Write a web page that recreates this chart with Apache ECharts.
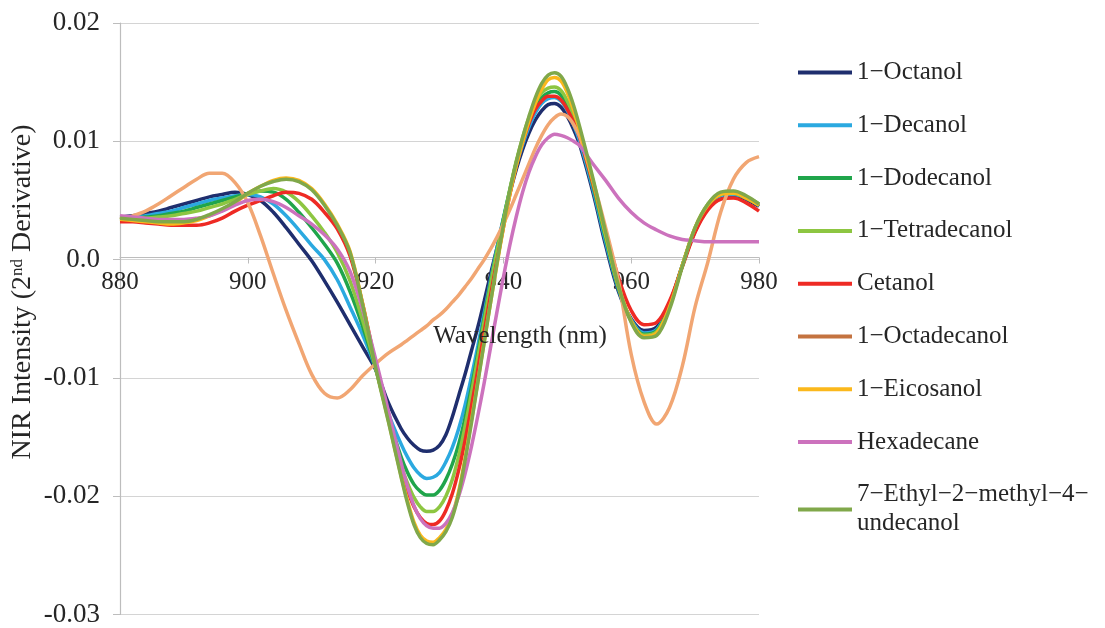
<!DOCTYPE html>
<html>
<head>
<meta charset="utf-8">
<script src="https://cdn.jsdelivr.net/npm/echarts@6/dist/echarts.min.js"></script>
<style>
html,body{margin:0;padding:0;background:#fff;}
#chart{width:1105px;height:628px;}
</style>
</head>
<body>
<div id="chart"></div>
<script>
// Wavelength grid (nm)
const wavelengths = [880,882,884,886,888,890,892,894,896,898,900,902,904,906,908,910,912,914,916,918,920,922,924,
  925,926,927,928,929,930,931,932,933,934,935,936,937,938,939,940,941,942,943,944,945,946,947,948,949,950,951,
  952,954,956,958,960,962,964,966,968,970,972,974,976,978,980];

const seriesNames = ['1\u2212Octanol','1\u2212Decanol','1\u2212Dodecanol','1\u2212Tetradecanol','Cetanol','1\u2212Octadecanol','1\u2212Eicosanol','Hexadecane','7\u2212Ethyl\u22122\u2212methyl\u22124\u2212\nundecanol'];

const octanol = [0.0036,0.0037,0.0039,0.0041,0.0044,0.0047,0.0050,0.0053,0.0055,0.0057,0.0055,0.0050,0.0040,0.0027,0.0013,
  -0.0001,-0.0018,-0.0036,-0.0055,-0.0074,-0.0093,-0.0121,-0.0143,
  -0.0151,-0.0157,-0.0161,-0.0162,-0.0161,-0.0157,-0.0148,-0.0133,-0.0115,-0.0097,-0.0077,-0.0057,-0.0035,-0.0012,0.0010,0.0034,0.0056,0.0076,0.0093,0.0107,0.0118,0.0126,0.0131,0.0132,0.0129,0.0121,0.0110,
  0.0096,0.0057,0.0012,-0.0027,-0.0050,-0.0060,-0.0057,-0.0037,-0.0005,0.0024,0.0043,0.0052,0.0054,0.0051,0.0045];

const decanol = [0.0036,0.0036,0.0037,0.0039,0.0041,0.0044,0.0047,0.0050,0.0052,0.0054,0.0055,0.0053,0.0047,0.0037,0.0025,
  0.0012,0.0000,-0.0017,-0.0040,-0.0064,-0.0092,-0.0130,-0.0156,
  -0.0167,-0.0176,-0.0182,-0.0185,-0.0184,-0.0180,-0.0171,-0.0159,-0.0143,-0.0123,-0.0099,-0.0073,-0.0045,-0.0017,0.0010,0.0035,0.0058,0.0079,0.0097,0.0112,0.0124,0.0132,0.0136,0.0137,0.0134,0.0126,0.0114,
  0.0099,0.0060,0.0015,-0.0025,-0.0051,-0.0062,-0.0059,-0.0038,-0.0005,0.0026,0.0045,0.0054,0.0055,0.0052,0.0046];

const dodecanol = [0.0036,0.0035,0.0036,0.0037,0.0039,0.0041,0.0044,0.0047,0.0050,0.0053,0.0056,0.0058,0.0057,0.0051,0.0040,
  0.0027,0.0013,-0.0003,-0.0027,-0.0057,-0.0092,-0.0133,-0.0167,
  -0.0180,-0.0190,-0.0196,-0.0199,-0.0199,-0.0195,-0.0186,-0.0173,-0.0156,-0.0134,-0.0108,-0.0079,-0.0049,-0.0019,0.0008,0.0034,0.0059,0.0082,0.0101,0.0117,0.0129,0.0137,0.0141,0.0142,0.0139,0.0130,0.0118,
  0.0103,0.0063,0.0018,-0.0024,-0.0052,-0.0063,-0.0060,-0.0039,-0.0005,0.0026,0.0046,0.0055,0.0056,0.0052,0.0046];

const tetradecanol = [0.0036,0.0035,0.0035,0.0036,0.0037,0.0039,0.0041,0.0044,0.0047,0.0051,0.0055,0.0058,0.0060,0.0057,0.0049,
  0.0037,0.0023,0.0006,-0.0018,-0.0052,-0.0091,-0.0134,-0.0174,
  -0.0189,-0.0201,-0.0209,-0.0213,-0.0213,-0.0209,-0.0200,-0.0186,-0.0166,-0.0141,-0.0113,-0.0083,-0.0052,-0.0021,0.0007,0.0033,0.0059,0.0083,0.0103,0.0120,0.0133,0.0141,0.0145,0.0146,0.0143,0.0134,0.0121,
  0.0105,0.0065,0.0020,-0.0023,-0.0052,-0.0064,-0.0061,-0.0040,-0.0005,0.0027,0.0047,0.0056,0.0057,0.0053,0.0047];

const cetanol = [0.0032,0.0032,0.0031,0.0030,0.0029,0.0029,0.0029,0.0031,0.0035,0.0041,0.0046,0.0050,0.0054,0.0057,0.0056,
  0.0051,0.0040,0.0026,0.0003,-0.0038,-0.0088,-0.0133,-0.0177,
  -0.0195,-0.0209,-0.0218,-0.0223,-0.0224,-0.0221,-0.0212,-0.0198,-0.0178,-0.0153,-0.0124,-0.0093,-0.0061,-0.0030,-0.0001,0.0027,0.0055,0.0079,0.0099,0.0115,0.0127,0.0134,0.0138,0.0138,0.0135,0.0127,0.0116,
  0.0102,0.0065,0.0024,-0.0015,-0.0043,-0.0055,-0.0053,-0.0035,-0.0006,0.0023,0.0042,0.0051,0.0052,0.0048,0.0041];

const octadecanol = [0.0034,0.0037,0.0041,0.0047,0.0054,0.0061,0.0068,0.0073,0.0073,0.0065,0.0048,0.0020,-0.0012,-0.0043,-0.0071,
  -0.0097,-0.0113,-0.0117,-0.0110,-0.0098,-0.0088,-0.0079,-0.0072,
  -0.0068,-0.0064,-0.0060,-0.0056,-0.0051,-0.0047,-0.0042,-0.0036,-0.0030,-0.0023,-0.0016,-0.0008,0.0000,0.0009,0.0019,0.0030,0.0042,0.0055,0.0068,0.0081,0.0094,0.0105,0.0114,0.0120,0.0123,0.0121,0.0114,
  0.0103,0.0067,0.0027,-0.0018,-0.0080,-0.0120,-0.0139,-0.0125,-0.0090,-0.0040,-0.0002,0.0040,0.0068,0.0082,0.0087];

const eicosanol = [0.0034,0.0033,0.0032,0.0031,0.0030,0.0031,0.0033,0.0037,0.0042,0.0048,0.0056,0.0062,0.0067,0.0069,0.0067,
  0.0060,0.0047,0.0030,0.0007,-0.0038,-0.0090,-0.0136,-0.0183,
  -0.0204,-0.0222,-0.0233,-0.0238,-0.0239,-0.0235,-0.0228,-0.0216,-0.0196,-0.0168,-0.0136,-0.0103,-0.0069,-0.0036,-0.0004,0.0027,0.0055,0.0079,0.0099,0.0117,0.0132,0.0144,0.0152,0.0154,0.0151,0.0141,0.0126,
  0.0108,0.0067,0.0022,-0.0022,-0.0052,-0.0065,-0.0062,-0.0040,-0.0005,0.0027,0.0046,0.0055,0.0056,0.0052,0.0046];

const hexadecane = [0.0037,0.0036,0.0035,0.0034,0.0034,0.0034,0.0035,0.0037,0.0041,0.0046,0.0050,0.0051,0.0049,0.0044,0.0037,
  0.0030,0.0021,0.0009,-0.0010,-0.0043,-0.0084,-0.0128,-0.0172,
  -0.0192,-0.0208,-0.0219,-0.0225,-0.0227,-0.0227,-0.0223,-0.0214,-0.0200,-0.0181,-0.0158,-0.0132,-0.0104,-0.0074,-0.0044,-0.0015,0.0012,0.0036,0.0057,0.0074,0.0087,0.0097,0.0103,0.0106,0.0105,0.0103,0.0100,
  0.0096,0.0081,0.0067,0.0052,0.0040,0.0031,0.0025,0.0020,0.0017,0.0016,0.0015,0.0015,0.0015,0.0015,0.0015];

const ethylMethylUndecanol = [0.0035,0.0034,0.0033,0.0032,0.0032,0.0032,0.0034,0.0038,0.0043,0.0049,0.0056,0.0062,0.0066,0.0068,0.0066,
  0.0059,0.0046,0.0029,0.0006,-0.0039,-0.0091,-0.0137,-0.0184,
  -0.0206,-0.0224,-0.0235,-0.0240,-0.0241,-0.0237,-0.0230,-0.0218,-0.0198,-0.0170,-0.0138,-0.0104,-0.0070,-0.0036,-0.0003,0.0029,0.0058,0.0082,0.0103,0.0121,0.0137,0.0149,0.0156,0.0158,0.0155,0.0145,0.0130,
  0.0111,0.0069,0.0023,-0.0022,-0.0053,-0.0066,-0.0064,-0.0042,-0.0006,0.0027,0.0047,0.0057,0.0058,0.0054,0.0047];

const yTicks = [-0.03,-0.02,-0.01,0,0.01,0.02];
const xTicks = [880,900,920,940,960,980];

const allValues = [octanol,decanol,dodecanol,tetradecanol,cetanol,octadecanol,eicosanol,hexadecane,ethylMethylUndecanol];
const colors = ['#1F2E6E','#2BA9E0','#20A54B','#8DC641','#EE2A24','#F1A673','#FBB81C','#CC72BD','#80A84A'];

const FONT = "'Liberation Serif','DejaVu Serif',serif";
const TXT = '#262626';

const GRID = { left: 120, right: 346, top: 23, bottom: 10 };
const PLOT_H = 628 - GRID.top - GRID.bottom;
const yMin = yTicks[0], yMax = yTicks[yTicks.length-1];
// distance from plot bottom to the zero line, so the x axis sits on y = 0
const zeroFromBottom = PLOT_H * (0 - yMin) / (yMax - yMin);

const chart = echarts.init(document.getElementById('chart'), null, {renderer:'canvas'});

const series = allValues.map((vals, i) => ({
  name: seriesNames[i],
  type: 'line',
  data: vals.map((v, j) => [wavelengths[j], v]),
  showSymbol: false,
  symbol: 'none',
  smooth: 0.35,
  lineStyle: { width: 3.5, color: colors[i] },
  itemStyle: { color: colors[i] },
  emphasis: { disabled: true },
  z: 2 + i
}));

const legendData = seriesNames.map((n, i) => {
  if (i === 5) return { name: n, icon: 'rect', itemStyle: {color:'#C47340'} };
  return { name: n, icon: 'rect', itemStyle: {color: colors[i]} };
});

chart.setOption({
  animation: false,
  backgroundColor: '#ffffff',
  grid: GRID,
  xAxis: {
    type: 'value', min: xTicks[0], max: xTicks[xTicks.length-1], interval: 20,
    position: 'bottom', offset: -zeroFromBottom,
    axisLine: { onZero: false, lineStyle: { color: '#BDBDBD', width: 1.2 } },
    axisTick: { show: true, length: 6, lineStyle: { color: '#BDBDBD' } },
    axisLabel: { fontFamily: FONT, fontSize: 25, color: TXT, margin: 12, showMinLabel: true, showMaxLabel: true },
    splitLine: { show: false }
  },
  yAxis: {
    type: 'value', min: yMin, max: yMax, interval: 0.01,
    axisLine: { show: true, onZero: false, lineStyle: { color: '#BDBDBD', width: 1.2 } },
    axisTick: { show: true, length: 7, lineStyle: { color: '#BDBDBD' } },
    axisLabel: { fontFamily: FONT, fontSize: 27, color: TXT, margin: 20,
      formatter: v => Math.abs(v) < 1e-9 ? '0.0' : v.toFixed(2) },
    splitLine: { show: true, lineStyle: { color: '#D4D4D4', width: 1.2 } }
  },
  legend: {
    orient: 'vertical', left: 793, top: 53,
    itemWidth: 54, itemHeight: 4, itemGap: 23.8,
    data: legendData,
    textStyle: { fontFamily: FONT, fontSize: 25, color: TXT, lineHeight: 29 },
    selectedMode: false
  },
  graphic: [
    { type: 'text', x: 520, y: 336, z: 100,
      style: { text: 'Wavelength (nm)', font: "25px 'Liberation Serif'", fill: TXT, align: 'center', verticalAlign: 'middle' } },
    { type: 'text', x: 23, y: 292, rotation: Math.PI/2, z: 100,
      style: { text: 'NIR Intensity (2{sup|nd} Derivative)', font: "28px 'Liberation Serif'", fill: TXT, align: 'center', verticalAlign: 'middle',
        rich: { sup: { fontSize: 17, fontFamily: 'Liberation Serif', fill: TXT, verticalAlign: 'top', padding: [0,0,11,0] } } } }
  ],
  series: series
});
</script>
</body>
</html>
